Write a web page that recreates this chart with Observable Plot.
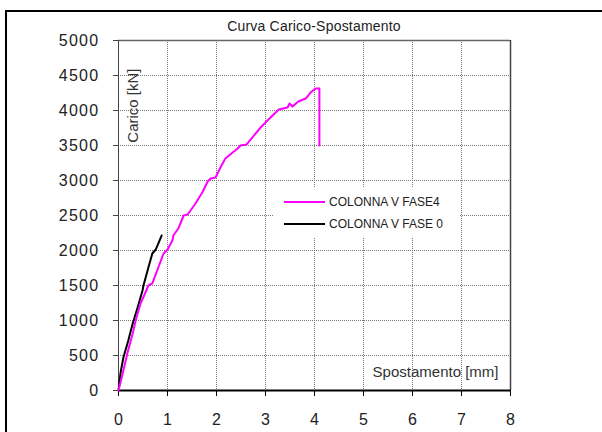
<!DOCTYPE html>
<html>
<head>
<meta charset="utf-8">
<script src="https://cdn.jsdelivr.net/npm/d3@7"></script>
<script src="https://cdn.jsdelivr.net/npm/@observablehq/plot@0.6"></script>
<style>
  html, body { margin: 0; padding: 0; background: #fff; }
  #wrap { position: relative; width: 602px; height: 432px; overflow: hidden; font-family: "Liberation Sans", Arial, sans-serif; }
  #border { position: absolute; left: 5px; top: 10px; width: 700px; height: 500px; border-left: 2px solid #000; border-top: 2px solid #000; }
  #title { position: absolute; left: 114px; width: 400px; top: 18px; text-align: center; font-size: 14px; color: #222; letter-spacing: 0.2px; }
  #legend { position: absolute; left: 273px; top: 187px; width: 187px; height: 51px; background: #fff; font-size: 12px; color: #222; }
  .li { position: absolute; left: 11px; height: 14px; display: flex; align-items: center; }
  .li span.sw { display: inline-block; width: 41px; height: 2px; margin-right: 4px; }
  #chart svg { position: absolute; left: 0; top: 0; }
  #chart g[aria-label="y-axis tick label"] text { letter-spacing: 1.3px; }
</style>
</head>
<body>
<div id="wrap">
  <div id="chart"></div>
  <div id="border"></div>
  <div id="title">Curva Carico-Spostamento</div>
  <div id="legend"></div>
</div>
<script>
// Data
const fase4X = [0, 0.1, 0.18, 0.29, 0.35, 0.45, 0.55, 0.61, 0.69, 0.79, 0.92, 1.0, 1.1, 1.12, 1.22, 1.33, 1.41, 1.47, 1.57, 1.71, 1.82, 1.88, 1.98, 2.08, 2.18, 2.33, 2.43, 2.49, 2.61, 2.73, 2.90, 3.04, 3.27, 3.45, 3.49, 3.55, 3.67, 3.82, 3.92, 4.02, 4.1, 4.1];
const fase4Y = [0, 286, 529, 814, 1000, 1243, 1400, 1500, 1529, 1714, 1957, 2014, 2143, 2214, 2314, 2500, 2514, 2571, 2671, 2829, 2986, 3029, 3043, 3186, 3314, 3400, 3457, 3500, 3514, 3614, 3757, 3857, 4014, 4043, 4100, 4057, 4129, 4171, 4257, 4314, 4314, 3500];
const fase0X = [0, 0.04, 0.1, 0.2, 0.29, 0.39, 0.49, 0.51, 0.61, 0.69, 0.76, 0.82, 0.88];
const fase0Y = [0, 243, 471, 714, 957, 1186, 1429, 1500, 1757, 1957, 2014, 2114, 2214];
const xTicks = [0, 1, 2, 3, 4, 5, 6, 7, 8];
const yTicks = [0, 500, 1000, 1500, 2000, 2500, 3000, 3500, 4000, 4500, 5000];
const seriesNames = ["COLONNA V FASE4", "COLONNA V FASE 0"];
const seriesColors = ["#ff00ff", "#000000"];
const xLabel = "Spostamento [mm]";
const yLabel = "Carico [kN]";

const fase4 = fase4X.map((x, i) => ({x, y: fase4Y[i]}));
const fase0 = fase0X.map((x, i) => ({x, y: fase0Y[i]}));
const xMax = xTicks[xTicks.length - 1], yMax = yTicks[yTicks.length - 1];

const chart = Plot.plot({
  width: 602,
  height: 432,
  marginLeft: 118,
  marginRight: 92,
  marginTop: 40,
  marginBottom: 42,
  style: { fontFamily: "Liberation Sans, Arial, sans-serif", fontSize: "16px", color: "#222", background: "transparent" },
  x: { domain: [0, xMax], ticks: xTicks },
  y: { domain: [0, yMax], ticks: yTicks },
  marks: [
    Plot.gridX(xTicks.slice(1, -1), { stroke: "#777", strokeOpacity: 1, strokeDasharray: "1,1" }),
    Plot.gridY(yTicks.slice(1, -1), { stroke: "#777", strokeOpacity: 1, strokeDasharray: "1,1" }),
    Plot.ruleY([yMax], { stroke: "#666", strokeWidth: 1.5 }),
    Plot.ruleX([xMax], { stroke: "#444", strokeWidth: 1.5 }),
    Plot.ruleX([0], { stroke: "#444", strokeWidth: 1 }),
    Plot.axisY(yTicks, { tickSize: 5, tickPadding: 14, stroke: "#444", label: null, tickFormat: d => String(d), fill: "#222" }),
    Plot.axisX(xTicks, { tickSize: 6, tickPadding: 17, stroke: "#000", label: null, tickFormat: d => String(d), fill: "#222" }),
    Plot.ruleY([0], { stroke: "#000", strokeWidth: 2 }),
    Plot.line(fase0, { x: "x", y: "y", stroke: seriesColors[1], strokeWidth: 2 }),
    Plot.line(fase4, { x: "x", y: "y", stroke: seriesColors[0], strokeWidth: 2 }),
    Plot.text([yLabel], { frameAnchor: "top-left", dx: 15, dy: 28, rotate: -90, textAnchor: "end", lineAnchor: "middle", fontSize: 15, fill: "#333" }),
    Plot.text([xLabel], { frameAnchor: "bottom-right", dx: -12, dy: -18, textAnchor: "end", lineAnchor: "middle", fontSize: 15, fill: "#333" })
  ]
});
document.getElementById("chart").appendChild(chart);

const legend = document.getElementById("legend");
seriesNames.forEach((name, i) => {
  const d = document.createElement("div");
  d.className = "li";
  d.style.top = (8 + i * 22) + "px";
  d.innerHTML = `<span class="sw" style="background:${seriesColors[i]}"></span><span>${name}</span>`;
  legend.appendChild(d);
});
</script>
</body>
</html>
